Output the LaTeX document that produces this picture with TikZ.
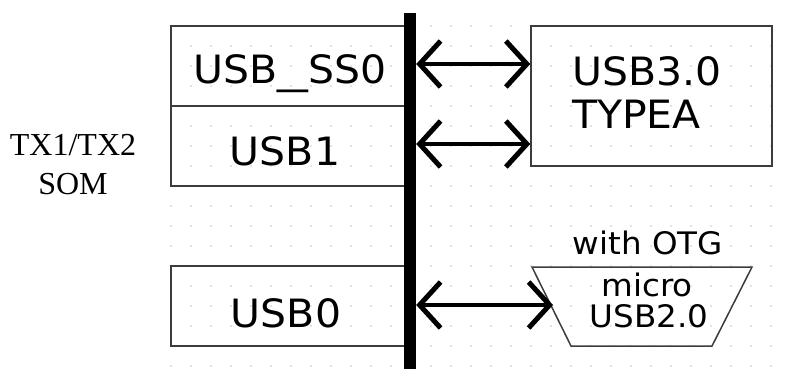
\documentclass[tikz,border=0pt]{standalone}
\usepackage{fontspec}
\setmainfont{Liberation Serif}
\newfontfamily\uifont[FakeStretch=1.05]{DejaVu Sans}
\usetikzlibrary{arrows.meta}
\definecolor{dotgray}{RGB}{200,200,200}
\definecolor{edgegray}{RGB}{60,60,60}
\begin{document}
\begin{tikzpicture}[x=1pt,y=-1pt,
  box/.style={draw=edgegray, line width=1.5pt, rectangle, inner sep=0pt},
  link/.style={line width=4.5pt, {Straight Barb[length=21pt,width=46pt,line width=5pt]}-{Straight Barb[length=21pt,width=46pt,line width=5pt]}},
  big/.style={font=\uifont\fontsize{39}{43}\selectfont, inner sep=0pt, anchor=base},
  small/.style={font=\uifont\fontsize{31}{31}\selectfont, inner sep=0pt, anchor=base},
  serif/.style={font=\fontsize{32}{39}\selectfont, inner sep=0pt, anchor=base},
]
\useasboundingbox (0,0) rectangle (787,369);

% dotted background grid
\foreach \gx in {171,191,...,771}
  \foreach \gy in {26,46,...,366}
    \fill[dotgray] (\gx,\gy) circle (0.8);

% SoM side interface blocks
\node[box, minimum width=239pt, minimum height=80pt] (ss0) at (290.5,66) {};
\node[box, minimum width=239pt, minimum height=80pt] (usb1) at (290.5,146) {};
\node[box, minimum width=239pt, minimum height=80pt] (usb0) at (290.5,306) {};

% connector blocks
\node[box, minimum width=241pt, minimum height=140pt] (typea) at (651.5,96) {};
\draw[draw=edgegray, line width=1.5pt]
  (532,267) coordinate (mtl) -- (752,267) coordinate (mtr)
  -- (712,346) coordinate (mbr) -- (571,346) coordinate (mbl) -- cycle;
\coordinate (microin) at (553,305);

% bus bar
\node[fill=black, minimum width=12pt, minimum height=356pt, inner sep=0pt] (bus) at (410,191) {};

% links
\coordinate (y1) at (0,64);
\coordinate (y2) at (0,144);
\coordinate (y3) at (0,305);
\draw[link] (bus.east |- y1) -- (typea.west |- y1);
\draw[link] (bus.east |- y2) -- (typea.west |- y2);
\draw[link] (bus.east |- y3) -- (microin);

% labels
\node[big] (tss0) at (290,84) {USB\scalebox{1.5}[1]{\_}SS0};
\node[big] (tusb1) at (285,165) {USB1};
\node[big] (tusb0) at (286,327) {USB0};
\node[big, anchor=base west, align=left] (ttypea) at (572,128) {USB3.0\\TYPEA};
\node[small] (totg) at (648,254) {with OTG};
\node[small] (tmicro) at (647,296) {micro};
\node[small] (tusb2) at (649,327) {USB2.0};
\node[serif] (tsom1) at (73,155) {TX1/TX2};
\node[serif] (tsom2) at (73,194) {SOM};
\end{tikzpicture}
\end{document}
